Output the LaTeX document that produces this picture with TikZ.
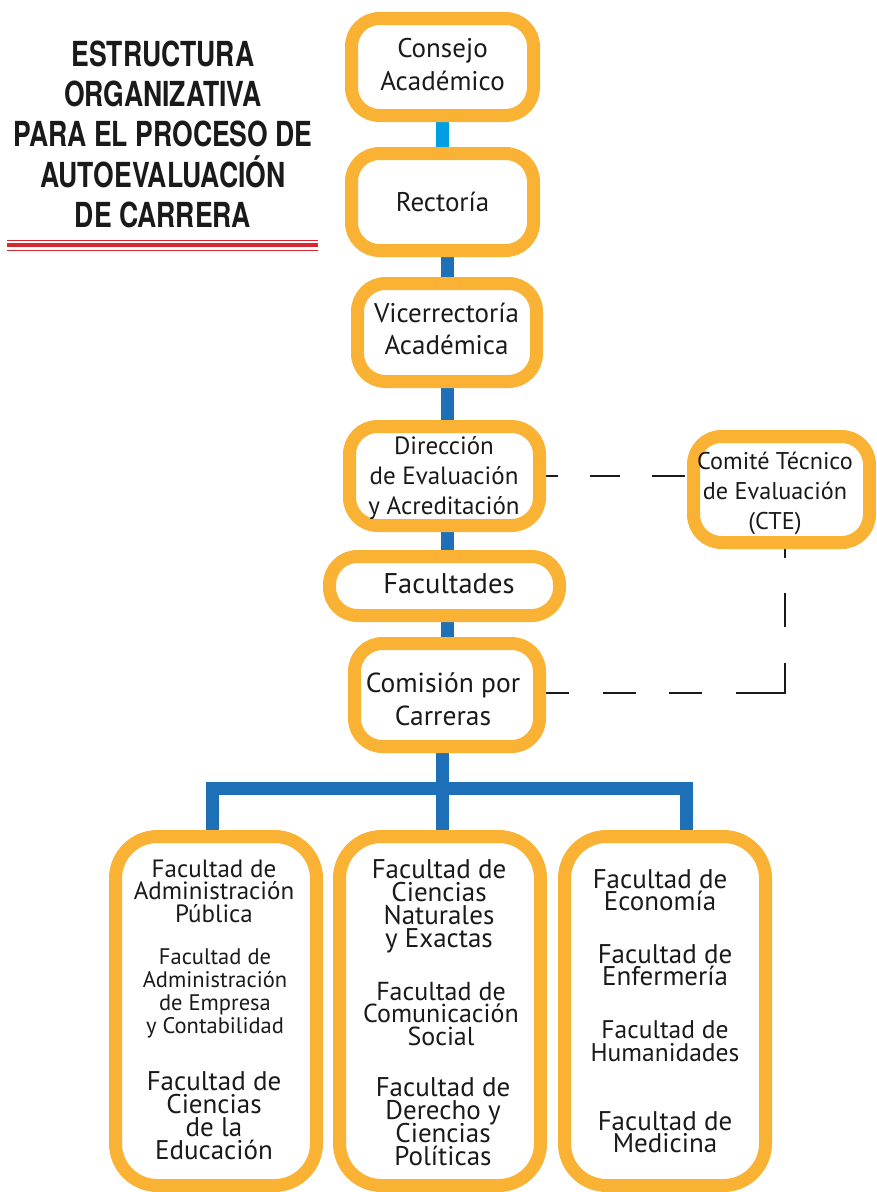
\documentclass[tikz,border=0pt]{standalone}
\usepackage{fontspec}
\setmainfont{PT Sans}
\newfontfamily\titlefont[FakeStretch=0.77]{TeX Gyre Heros}
\usetikzlibrary{backgrounds}
\definecolor{orng}{RGB}{249,178,51}
\definecolor{dblue}{RGB}{29,112,183}
\definecolor{lblue}{RGB}{0,159,227}
\definecolor{rline}{RGB}{214,40,46}
\definecolor{ink}{RGB}{26,26,26}
\newcommand\nolskip{\lineskiplimit=-100pt\relax}
\tikzset{
 box/.style={draw=orng, line width=13pt, fill=white, rounded corners=28pt, inner sep=0pt},
 bigbox/.style={box, rounded corners=42pt, minimum width=201pt, minimum height=349pt},
 conn/.style={draw=dblue, line width=13pt},
 lconn/.style={draw=lblue, line width=13pt},
 dashconn/.style={draw=ink, line width=2.5pt},
 txt/.style={anchor=base, inner sep=0pt, text=ink, align=center},
 titletxt/.style={anchor=base, inner sep=0pt, font=\titlefont\bfseries\fontsize{34.5}{40}\selectfont, text=ink},
}
% name, x, last baseline y, size, skip, text
\newcommand\grp[6]{%
  \node[txt, font={\fontsize{#4}{#5}\selectfont\nolskip}] (#1) at (#2,#3) {#6};}
\begin{document}
\begin{tikzpicture}[x=1pt,y=-1pt]
\useasboundingbox (0,0) rectangle (876,1192);
% title
\node[titletxt] (t1) at (163,66) {ESTRUCTURA};
\node[titletxt] (t2) at (163,106) {ORGANIZATIVA};
\node[titletxt] (t3) at (163,146) {PARA EL PROCESO DE};
\node[titletxt] (t4) at (163,187) {AUTOEVALUACIÓN};
\node[titletxt] (t5) at (163,227) {DE CARRERA};
\draw[rline, line width=1.5pt] (7,240.5) -- (318,240.5);
\draw[rline, line width=4pt] (7,245) -- (318,245);
\draw[rline, line width=1.5pt] (7,250.5) -- (318,250.5);
% boxes
\node[box, minimum width=182pt, minimum height=97pt] (consejo) at (442.5,67) {};
\node[box, minimum width=182pt, minimum height=97pt] (rectoria) at (442.5,202) {};
\node[box, minimum width=179pt, minimum height=98pt] (vice) at (447,332.5) {};
\node[box, minimum width=190pt, minimum height=99pt] (direccion) at (444.5,476) {};
\node[box, minimum width=176pt, minimum height=106pt] (cte) at (781.5,489.5) {};
\node[box, minimum width=230pt, minimum height=59pt] (facultades) at (444.5,586) {};
\node[box, minimum width=185pt, minimum height=103pt] (comision) at (447,695) {};
\node[bigbox] (facleft) at (216,1011) {};
\node[bigbox] (facmid) at (440,1011) {};
\node[bigbox] (facright) at (665,1011) {};
\coordinate (bl) at (212.5,788.5);
\coordinate (bm) at (442,788.5);
\coordinate (br) at (686.5,788.5);
\coordinate (corner) at (785,693);
% connectors
\begin{scope}[on background layer]
\draw[lconn] (consejo.south) -- (rectoria.north);
\draw[conn] (vice.north |- rectoria.south) -- (vice.north);
\draw[conn] (vice.south) -- (vice.south |- direccion.north);
\draw[conn] (vice.south |- direccion.south) -- (vice.south |- facultades.north);
\draw[conn] (vice.south |- facultades.south) -- (vice.south |- comision.north);
\draw[conn] (bm |- comision.south) -- (bm |- facmid.north);
\draw[conn, line join=miter] (bl |- facleft.north) -- (bl) -- (br) -- (br |- facright.north);
\draw[dashconn, dash pattern=on 11.5pt off 32pt on 30pt off 32pt on 33pt off 40pt] (direccion.east) -- (direccion.east -| cte.west);
\draw[dashconn, line join=miter, dash pattern=on 8.5pt off 35pt on 34pt off 36pt on 80pt off 34pt on 33pt off 33pt on 33pt off 34pt on 36pt off 20pt] (corner |- cte.south) -- (corner) -- (comision.east |- corner);
\end{scope}
% texts
\grp{ce}{442.5}{90}{27}{32.5}{Consejo\\Académico}
\grp{re}{442.5}{211}{27}{32}{Rectoría}
\grp{vi}{446.5}{354}{27}{32}{Vicerrectoría\\Académica}
\grp{di}{444}{514}{25}{30}{Dirección\\de Evaluación\\y Acreditación}
\grp{ct}{775}{529}{24.2}{30}{Comité Técnico\\de Evaluación\\(CTE)}
\grp{fa}{449}{593}{28.5}{32}{Facultades}
\grp{co}{443}{725}{27.5}{33}{Comisión por\\Carreras}
% left column
\grp{la}{214}{922}{25}{22.5}{Facultad de\\Administración\\Pública}
\grp{lb}{215}{1033}{22.5}{22.7}{Facultad de\\Administración\\de Empresa\\y Contabilidad}
\grp{lc}{214}{1159}{27}{23}{Facultad de\\Ciencias\\de la\\Educación}
% middle column
\grp{ma}{439}{947}{27}{23}{Facultad de\\Ciencias\\Naturales\\y Exactas}
\grp{mb}{441}{1045}{26}{22.5}{Facultad de\\Comunicación\\Social}
\grp{mc}{443}{1165}{27}{23}{Facultad de\\Derecho y\\Ciencias\\Políticas}
% right column
\grp{ra}{660}{910}{27}{22}{Facultad de\\Economía}
\grp{rb}{665}{985}{27}{22}{Facultad de\\Enfermería}
\grp{rc}{665}{1061}{25.5}{23}{Facultad de\\Humanidades}
\grp{rd}{665}{1152}{27}{22}{Facultad de\\Medicina}
\end{tikzpicture}
\end{document}
